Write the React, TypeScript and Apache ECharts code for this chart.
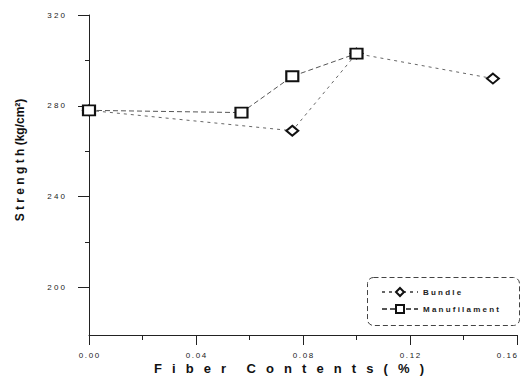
import React, { useEffect, useRef } from "react";
import * as echarts from "echarts";

const bundleX = [0.0, 0.076, 0.1, 0.151];
const bundleY = [278, 269, 303, 292];
const filamentX = [0.0, 0.057, 0.076, 0.1];
const filamentY = [278, 277, 293, 303];
const seriesNames = ["Bundle", "Manufilament"];
const xMajorTicks = [0, 0.04, 0.08, 0.12, 0.16];
const xMinorTicks = [0.02, 0.06, 0.1, 0.14];
const yMajorTicks = [200, 240, 280, 320];
const yMinorTicks = [220, 260, 300];
const xTitleWords = ["Fiber", "Contents(%)"];
const yTitle = "Strength (kg/cm²)";

const spaced = (s: string, sep = " ") => s.split("").join(sep);

export default function App() {
  const ref = useRef<HTMLDivElement>(null);
  useEffect(() => {
    if (!ref.current) return;
    const chart = echarts.init(ref.current, undefined, { renderer: "svg" });
    const font = "Liberation Sans, Arial, sans-serif";
    const axisCommon = {
      axisLine: { show: true, lineStyle: { color: "#222", width: 1 } },
      splitLine: { show: false },
    };
    const bundleData = bundleX.map((x, i) => [x, bundleY[i]]);
    const filamentData = filamentX.map((x, i) => [x, filamentY[i]]);
    const gap = "\u2002 ";
    const xTitle = xTitleWords.map((w) => spaced(w, gap)).join(gap + gap);
    const yTitleText = spaced("Strength") + " " + yTitle.slice(9);
    chart.setOption({
      animation: false,
      backgroundColor: "#fff",
      grid: { left: 89, right: 12, top: 15, bottom: 45 },
      xAxis: [
        {
          type: "value",
          min: 0,
          max: 0.16,
          ...axisCommon,
          axisTick: {
            show: true,
            customValues: xMajorTicks,
            length: 10,
            lineStyle: { color: "#222" },
          },
          axisLabel: {
            customValues: xMajorTicks,
            formatter: (v: number) => spaced(v.toFixed(2), "\u2009"),
            fontSize: 8,
            lineHeight: 8,
            color: "#222",
            fontFamily: font,
            margin: 16,
            alignMaxLabel: "right",
          },
        },
        {
          type: "value",
          min: 0,
          max: 0.16,
          position: "bottom",
          axisLine: { show: false },
          splitLine: { show: false },
          axisLabel: { show: false },
          axisTick: {
            show: true,
            customValues: xMinorTicks,
            length: 5,
            lineStyle: { color: "#222" },
          },
        },
      ],
      yAxis: [
        {
          type: "value",
          min: 179,
          max: 320,
          ...axisCommon,
          axisTick: {
            show: true,
            customValues: yMajorTicks,
            length: 11,
            lineStyle: { color: "#222" },
          },
          axisLabel: {
            customValues: yMajorTicks,
            formatter: (v: number) => spaced(String(v)),
            fontSize: 8,
            color: "#222",
            fontFamily: font,
            margin: 24,
          },
        },
        {
          type: "value",
          min: 179,
          max: 320,
          position: "left",
          axisLine: { show: false },
          splitLine: { show: false },
          axisLabel: { show: false },
          axisTick: {
            show: true,
            customValues: yMinorTicks,
            length: 4,
            lineStyle: { color: "#222" },
          },
        },
      ],
      legend: {
        orient: "vertical",
        left: 376,
        top: 282,
        itemWidth: 36,
        itemHeight: 10,
        itemGap: 7,
        data: seriesNames,
        formatter: (n: string) => spaced(n),
        textStyle: { fontSize: 8, fontWeight: "bold", color: "#222", fontFamily: font },
      },
      graphic: [
        {
          type: "rect",
          left: 365,
          top: 275,
          shape: { width: 152, height: 48, r: 6 },
          style: { fill: "none", stroke: "#444", lineWidth: 1, lineDash: [5, 3] },
        },
        {
          type: "text",
          x: 289,
          y: 368,
          style: {
            text: xTitle,
            align: "center",
            verticalAlign: "middle",
            fontSize: 13,
            lineHeight: 13,
            fontWeight: "bold",
            fill: "#111",
            fontFamily: font,
          },
        },
        {
          type: "text",
          x: 20,
          y: 160,
          rotation: Math.PI / 2,
          style: {
            text: yTitleText,
            align: "center",
            verticalAlign: "middle",
            fontSize: 12,
            fontWeight: "bold",
            fill: "#111",
            fontFamily: font,
          },
        },
      ],
      series: [
        {
          name: seriesNames[0],
          type: "line",
          data: bundleData,
          symbol: "diamond",
          symbolSize: [12, 10],
          lineStyle: { color: "#666", width: 1, type: [3, 4] },
          itemStyle: { color: "#fff", borderColor: "#111", borderWidth: 2 },
          z: 3,
        },
        {
          name: seriesNames[1],
          type: "line",
          data: filamentData,
          symbol: "rect",
          symbolSize: [12, 10],
          lineStyle: { color: "#555", width: 1, type: [5, 3] },
          itemStyle: { color: "#fff", borderColor: "#111", borderWidth: 2 },
          z: 4,
        },
      ],
    });
    return () => chart.dispose();
  }, []);
  return (
    <div
      ref={ref}
      style={{ position: "fixed", left: 0, top: 0, width: 529, height: 380 }}
    />
  );
}
